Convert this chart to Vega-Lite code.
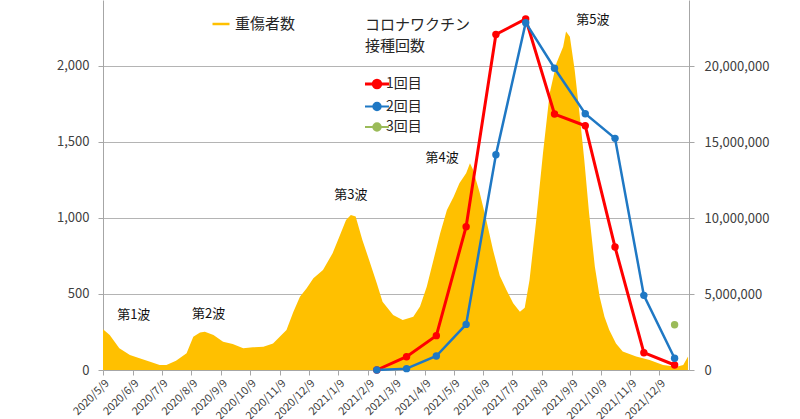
{
  "$schema": "https://vega.github.io/schema/vega-lite/v6.json",
  "width": 586,
  "height": 370,
  "autosize": {"type": "none"},
  "padding": {"left": 103, "top": 0, "right": 111, "bottom": 49},
  "background": "white",
  "config": {
    "view": {"stroke": null},
    "font": "Noto Sans CJK JP",
    "legend": {"padding": 0},
    "axisX": {
      "labelOverlap": false,
      "labelFlush": false,
      "labelSeparation": -40,
      "format": "%Y/%-m/%-d",
      "labelAngle": -45,
      "labelFontSize": 11,
      "labelColor": "#404040",
      "labelPadding": 2,
      "tickSize": 5,
      "tickColor": "#A6A6A6",
      "domainColor": "#A6A6A6",
      "grid": false,
      "title": null
    }
  },
  "datasets": {
    "cases": [
      {"date": "2020-05-09", "value": 268},
      {"date": "2020-05-16", "value": 230},
      {"date": "2020-05-26", "value": 143},
      {"date": "2020-06-06", "value": 99},
      {"date": "2020-06-16", "value": 77},
      {"date": "2020-06-27", "value": 55},
      {"date": "2020-07-07", "value": 33},
      {"date": "2020-07-14", "value": 33},
      {"date": "2020-07-24", "value": 61},
      {"date": "2020-08-04", "value": 110},
      {"date": "2020-08-11", "value": 219},
      {"date": "2020-08-18", "value": 246},
      {"date": "2020-08-23", "value": 252},
      {"date": "2020-09-01", "value": 230},
      {"date": "2020-09-11", "value": 186},
      {"date": "2020-09-21", "value": 171},
      {"date": "2020-10-02", "value": 143},
      {"date": "2020-10-12", "value": 149},
      {"date": "2020-10-23", "value": 153},
      {"date": "2020-11-02", "value": 175},
      {"date": "2020-11-09", "value": 219},
      {"date": "2020-11-16", "value": 263},
      {"date": "2020-11-23", "value": 380},
      {"date": "2020-11-30", "value": 482},
      {"date": "2020-12-07", "value": 537},
      {"date": "2020-12-14", "value": 603},
      {"date": "2020-12-24", "value": 658},
      {"date": "2021-01-03", "value": 768},
      {"date": "2021-01-10", "value": 877},
      {"date": "2021-01-17", "value": 987},
      {"date": "2021-01-22", "value": 1020},
      {"date": "2021-01-27", "value": 1009},
      {"date": "2021-02-03", "value": 855},
      {"date": "2021-02-10", "value": 724},
      {"date": "2021-02-18", "value": 570},
      {"date": "2021-02-24", "value": 449},
      {"date": "2021-03-07", "value": 362},
      {"date": "2021-03-17", "value": 329},
      {"date": "2021-03-28", "value": 351},
      {"date": "2021-04-04", "value": 417},
      {"date": "2021-04-11", "value": 548},
      {"date": "2021-04-18", "value": 724},
      {"date": "2021-04-25", "value": 900},
      {"date": "2021-05-02", "value": 1053},
      {"date": "2021-05-09", "value": 1140},
      {"date": "2021-05-15", "value": 1228},
      {"date": "2021-05-22", "value": 1294},
      {"date": "2021-05-26", "value": 1360},
      {"date": "2021-05-29", "value": 1320},
      {"date": "2021-06-05", "value": 1170},
      {"date": "2021-06-12", "value": 987},
      {"date": "2021-06-19", "value": 789},
      {"date": "2021-06-26", "value": 620},
      {"date": "2021-07-03", "value": 526},
      {"date": "2021-07-10", "value": 439},
      {"date": "2021-07-17", "value": 384},
      {"date": "2021-07-22", "value": 410},
      {"date": "2021-07-27", "value": 592},
      {"date": "2021-08-03", "value": 987},
      {"date": "2021-08-10", "value": 1426},
      {"date": "2021-08-17", "value": 1820},
      {"date": "2021-08-24", "value": 2018},
      {"date": "2021-08-31", "value": 2127},
      {"date": "2021-09-03", "value": 2226},
      {"date": "2021-09-07", "value": 2193},
      {"date": "2021-09-12", "value": 1974},
      {"date": "2021-09-17", "value": 1689},
      {"date": "2021-09-22", "value": 1382},
      {"date": "2021-09-27", "value": 1031},
      {"date": "2021-10-03", "value": 680},
      {"date": "2021-10-08", "value": 482},
      {"date": "2021-10-13", "value": 351},
      {"date": "2021-10-18", "value": 263},
      {"date": "2021-10-25", "value": 175},
      {"date": "2021-11-01", "value": 121},
      {"date": "2021-11-15", "value": 88},
      {"date": "2021-11-29", "value": 66},
      {"date": "2021-12-13", "value": 33},
      {"date": "2021-12-27", "value": 22},
      {"date": "2022-01-03", "value": 33},
      {"date": "2022-01-08", "value": 88}
    ],
    "vax": [
      {"date": "2021-02-18", "dose": "1回目", "doses": 0},
      {"date": "2021-03-21", "dose": "1回目", "doses": 875000},
      {"date": "2021-04-21", "dose": "1回目", "doses": 2260000},
      {"date": "2021-05-22", "dose": "1回目", "doses": 9430000},
      {"date": "2021-06-22", "dose": "1回目", "doses": 22070000},
      {"date": "2021-07-23", "dose": "1回目", "doses": 23100000},
      {"date": "2021-08-22", "dose": "1回目", "doses": 16840000},
      {"date": "2021-09-23", "dose": "1回目", "doses": 16070000},
      {"date": "2021-10-24", "dose": "1回目", "doses": 8090000},
      {"date": "2021-11-23", "dose": "1回目", "doses": 1140000},
      {"date": "2021-12-25", "dose": "1回目", "doses": 330000},
      {"date": "2021-02-18", "dose": "2回目", "doses": 0},
      {"date": "2021-03-21", "dose": "2回目", "doses": 90000},
      {"date": "2021-04-21", "dose": "2回目", "doses": 920000},
      {"date": "2021-05-22", "dose": "2回目", "doses": 3000000},
      {"date": "2021-06-22", "dose": "2回目", "doses": 14160000},
      {"date": "2021-07-23", "dose": "2回目", "doses": 22850000},
      {"date": "2021-08-22", "dose": "2回目", "doses": 19850000},
      {"date": "2021-09-23", "dose": "2回目", "doses": 16860000},
      {"date": "2021-10-24", "dose": "2回目", "doses": 15240000},
      {"date": "2021-11-23", "dose": "2回目", "doses": 4910000},
      {"date": "2021-12-25", "dose": "2回目", "doses": 770000},
      {"date": "2021-12-25", "dose": "3回目", "doses": 2980000}
    ],
    "waves": [
      {"date": "2020-06-10", "value": 360, "label": "第1波"},
      {"date": "2020-08-27", "value": 370, "label": "第2波"},
      {"date": "2021-01-22", "value": 1150, "label": "第3波"},
      {"date": "2021-04-27", "value": 1395, "label": "第4波"},
      {"date": "2021-10-01", "value": 2305, "label": "第5波"}
    ]
  },
  "layer": [
    {
      "data": {"name": "cases"},
      "mark": {"type": "area", "interpolate": "linear"},
      "encoding": {
        "x": {
          "field": "date",
          "type": "temporal",
          "scale": {
            "type": "utc",
            "domain": [
              {"year": 2020, "month": 5, "date": 9, "utc": true},
              {"year": 2022, "month": 1, "date": 9, "utc": true}
            ]
          },
          "axis": {
            "values": [
              {"year": 2020, "month": 5, "date": 9, "utc": true},
              {"year": 2020, "month": 6, "date": 9, "utc": true},
              {"year": 2020, "month": 7, "date": 9, "utc": true},
              {"year": 2020, "month": 8, "date": 9, "utc": true},
              {"year": 2020, "month": 9, "date": 9, "utc": true},
              {"year": 2020, "month": 10, "date": 9, "utc": true},
              {"year": 2020, "month": 11, "date": 9, "utc": true},
              {"year": 2020, "month": 12, "date": 9, "utc": true},
              {"year": 2021, "month": 1, "date": 9, "utc": true},
              {"year": 2021, "month": 2, "date": 9, "utc": true},
              {"year": 2021, "month": 3, "date": 9, "utc": true},
              {"year": 2021, "month": 4, "date": 9, "utc": true},
              {"year": 2021, "month": 5, "date": 9, "utc": true},
              {"year": 2021, "month": 6, "date": 9, "utc": true},
              {"year": 2021, "month": 7, "date": 9, "utc": true},
              {"year": 2021, "month": 8, "date": 9, "utc": true},
              {"year": 2021, "month": 9, "date": 9, "utc": true},
              {"year": 2021, "month": 10, "date": 9, "utc": true},
              {"year": 2021, "month": 11, "date": 9, "utc": true},
              {"year": 2021, "month": 12, "date": 9, "utc": true}
            ],
            "labelOverlap": false,
            "labelSeparation": -40
          }
        },
        "y": {
          "field": "value",
          "type": "quantitative",
          "scale": {"domain": [0, 2434], "nice": false},
          "axis": {
            "title": null,
            "orient": "left",
            "values": [0, 500, 1000, 1500, 2000],
            "format": ",d",
            "grid": true,
            "gridColor": "#B4B4B4",
            "domainColor": "#A6A6A6",
            "tickColor": "#A6A6A6",
            "tickSize": 5,
            "labelFontSize": 13,
            "labelColor": "#404040",
            "labelPadding": 9
          }
        },
        "color": {
          "datum": "重傷者数",
          "type": "nominal",
          "scale": {"range": ["#FFC000"]},
          "legend": {
            "title": null,
            "orient": "none",
            "legendX": 108,
            "legendY": 14,
            "symbolType": "stroke",
            "symbolSize": 289,
            "labelFontSize": 15,
            "labelColor": "#262626",
            "labelOffset": 4,
            "encode": {
              "symbols": {
                "update": {
                  "stroke": {"value": "#FFC000"},
                  "strokeWidth": {"value": 2.5}
                }
              }
            }
          }
        }
      }
    },
    {
      "data": {"name": "waves"},
      "mark": {"type": "text", "fontSize": 13, "color": "#111111"},
      "encoding": {
        "x": {
          "field": "date",
          "type": "temporal",
          "axis": {
            "values": [
              {"year": 2020, "month": 5, "date": 9, "utc": true},
              {"year": 2020, "month": 6, "date": 9, "utc": true},
              {"year": 2020, "month": 7, "date": 9, "utc": true},
              {"year": 2020, "month": 8, "date": 9, "utc": true},
              {"year": 2020, "month": 9, "date": 9, "utc": true},
              {"year": 2020, "month": 10, "date": 9, "utc": true},
              {"year": 2020, "month": 11, "date": 9, "utc": true},
              {"year": 2020, "month": 12, "date": 9, "utc": true},
              {"year": 2021, "month": 1, "date": 9, "utc": true},
              {"year": 2021, "month": 2, "date": 9, "utc": true},
              {"year": 2021, "month": 3, "date": 9, "utc": true},
              {"year": 2021, "month": 4, "date": 9, "utc": true},
              {"year": 2021, "month": 5, "date": 9, "utc": true},
              {"year": 2021, "month": 6, "date": 9, "utc": true},
              {"year": 2021, "month": 7, "date": 9, "utc": true},
              {"year": 2021, "month": 8, "date": 9, "utc": true},
              {"year": 2021, "month": 9, "date": 9, "utc": true},
              {"year": 2021, "month": 10, "date": 9, "utc": true},
              {"year": 2021, "month": 11, "date": 9, "utc": true},
              {"year": 2021, "month": 12, "date": 9, "utc": true}
            ],
            "labelOverlap": false,
            "labelSeparation": -40
          }
        },
        "y": {
          "field": "value",
          "type": "quantitative",
          "scale": {"domain": [0, 2434], "nice": false},
          "axis": null
        },
        "text": {"field": "label"}
      }
    },
    {
      "data": {"name": "vax"},
      "mark": {"type": "line", "point": {"filled": true, "size": 55}},
      "encoding": {
        "x": {
          "field": "date",
          "type": "temporal",
          "axis": {
            "values": [
              {"year": 2020, "month": 5, "date": 9, "utc": true},
              {"year": 2020, "month": 6, "date": 9, "utc": true},
              {"year": 2020, "month": 7, "date": 9, "utc": true},
              {"year": 2020, "month": 8, "date": 9, "utc": true},
              {"year": 2020, "month": 9, "date": 9, "utc": true},
              {"year": 2020, "month": 10, "date": 9, "utc": true},
              {"year": 2020, "month": 11, "date": 9, "utc": true},
              {"year": 2020, "month": 12, "date": 9, "utc": true},
              {"year": 2021, "month": 1, "date": 9, "utc": true},
              {"year": 2021, "month": 2, "date": 9, "utc": true},
              {"year": 2021, "month": 3, "date": 9, "utc": true},
              {"year": 2021, "month": 4, "date": 9, "utc": true},
              {"year": 2021, "month": 5, "date": 9, "utc": true},
              {"year": 2021, "month": 6, "date": 9, "utc": true},
              {"year": 2021, "month": 7, "date": 9, "utc": true},
              {"year": 2021, "month": 8, "date": 9, "utc": true},
              {"year": 2021, "month": 9, "date": 9, "utc": true},
              {"year": 2021, "month": 10, "date": 9, "utc": true},
              {"year": 2021, "month": 11, "date": 9, "utc": true},
              {"year": 2021, "month": 12, "date": 9, "utc": true}
            ],
            "labelOverlap": false,
            "labelSeparation": -40
          }
        },
        "y": {
          "field": "doses",
          "type": "quantitative",
          "scale": {"domain": [0, 24342105], "nice": false},
          "axis": {
            "title": null,
            "orient": "right",
            "values": [0, 5000000, 10000000, 15000000, 20000000],
            "format": ",d",
            "grid": false,
            "domainColor": "#A6A6A6",
            "tickColor": "#A6A6A6",
            "tickSize": 5,
            "labelFontSize": 13,
            "labelColor": "#404040",
            "labelPadding": 10
          }
        },
        "color": {
          "field": "dose",
          "type": "nominal",
          "scale": {
            "domain": ["1回目", "2回目", "3回目"],
            "range": ["#FF0000", "#1F78C4", "#9BBB59"]
          },
          "legend": {
            "title": ["コロナワクチン", "接種回数"],
            "titleFontSize": 15,
            "titleFontWeight": "normal",
            "titleColor": "#262626",
            "titleLineHeight": 21,
            "titlePadding": 23,
            "orient": "none",
            "legendX": 262,
            "legendY": 18,
            "symbolType": "M-1.6,0H1.6M0.5,0A0.5,0.5,0,1,1,-0.5,0A0.5,0.5,0,1,1,0.5,0Z",
            "symbolSize": 225,
            "labelFontSize": 14,
            "labelColor": "#262626",
            "labelOffset": 7,
            "rowPadding": 4.5,
            "encode": {
              "symbols": {
                "update": {
                  "fill": {"signal": "datum.value === '1回目' ? '#FF0000' : datum.value === '2回目' ? '#1F78C4' : '#9BBB59'"},
                  "stroke": {"signal": "datum.value === '1回目' ? '#FF0000' : datum.value === '2回目' ? '#1F78C4' : '#9BBB59'"},
                  "strokeWidth": {"signal": "datum.value === '1回目' ? 3 : 2"},
                  "xc": {"value": 12}
                }
              }
            }
          }
        },
        "strokeWidth": {
          "field": "dose",
          "type": "nominal",
          "scale": {"domain": ["1回目", "2回目", "3回目"], "range": [3, 2, 2]},
          "legend": null
        }
      }
    }
  ],
  "resolve": {"scale": {"y": "independent", "color": "independent"}}
}
